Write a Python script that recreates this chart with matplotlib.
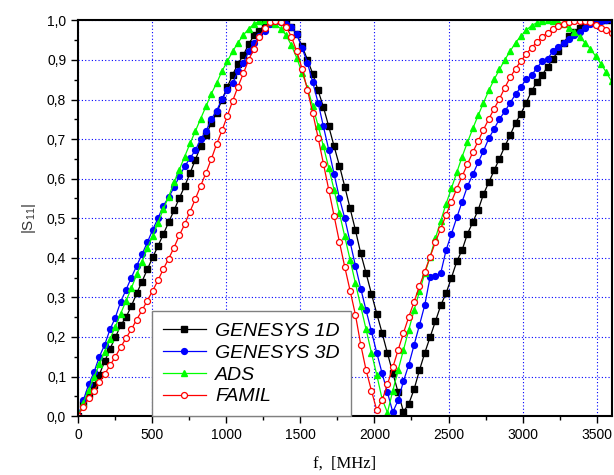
import matplotlib
matplotlib.use('Agg')
import matplotlib.pyplot as plt
from matplotlib.ticker import MultipleLocator, FuncFormatter
from matplotlib.font_manager import FontProperties

plt.rcParams['font.family'] = 'Liberation Sans'
plt.rcParams['mathtext.default'] = 'regular'

# sample frequencies, MHz
freq = [0, 36, 72, 108, 144, 180, 216, 252, 288, 324,
        360, 396, 432, 468, 504, 540, 576, 612, 648, 684,
        720, 756, 792, 828, 864, 900, 936, 972, 1008, 1044,
        1080, 1116, 1152, 1188, 1224, 1260, 1296, 1332, 1368, 1404,
        1440, 1476, 1512, 1548, 1584, 1620, 1656, 1692, 1728, 1764,
        1800, 1836, 1872, 1908, 1944, 1980, 2016, 2052, 2088, 2124,
        2160, 2196, 2232, 2268, 2304, 2340, 2376, 2412, 2448, 2484,
        2520, 2556, 2592, 2628, 2664, 2700, 2736, 2772, 2808, 2844,
        2880, 2916, 2952, 2988, 3024, 3060, 3096, 3132, 3168, 3204,
        3240, 3276, 3312, 3348, 3384, 3420, 3456, 3492, 3528, 3564,
        3600]

genesys_1d = [0.000, 0.030, 0.055, 0.078, 0.105, 0.138, 0.170, 0.199, 0.229, 0.250,
              0.278, 0.310, 0.340, 0.371, 0.401, 0.430, 0.460, 0.490, 0.520, 0.551,
              0.581, 0.614, 0.648, 0.682, 0.710, 0.741, 0.766, 0.800, 0.832, 0.863,
              0.891, 0.912, 0.941, 0.962, 0.973, 0.990, 0.996, 1.000, 1.000, 0.994,
              0.984, 0.965, 0.935, 0.901, 0.865, 0.823, 0.781, 0.732, 0.682, 0.633,
              0.580, 0.525, 0.470, 0.411, 0.361, 0.309, 0.259, 0.210, 0.159, 0.109,
              0.060, 0.011, 0.031, 0.068, 0.116, 0.160, 0.200, 0.240, 0.280, 0.311,
              0.350, 0.391, 0.420, 0.461, 0.490, 0.521, 0.561, 0.591, 0.621, 0.651,
              0.682, 0.710, 0.741, 0.764, 0.792, 0.821, 0.844, 0.862, 0.883, 0.903,
              0.922, 0.944, 0.960, 0.970, 0.981, 0.990, 0.996, 0.998, 1.000, 1.000,
              1.000]

genesys_3d = [0.000, 0.040, 0.080, 0.111, 0.150, 0.180, 0.219, 0.249, 0.289, 0.319,
              0.350, 0.380, 0.409, 0.439, 0.471, 0.500, 0.532, 0.553, 0.578, 0.606,
              0.631, 0.652, 0.672, 0.700, 0.720, 0.751, 0.772, 0.802, 0.824, 0.842,
              0.872, 0.893, 0.922, 0.944, 0.960, 0.973, 0.990, 0.995, 0.996, 0.992,
              0.984, 0.965, 0.930, 0.893, 0.844, 0.792, 0.732, 0.673, 0.612, 0.551,
              0.500, 0.440, 0.380, 0.322, 0.267, 0.214, 0.160, 0.108, 0.060, 0.010,
              0.040, 0.088, 0.130, 0.180, 0.230, 0.281, 0.352, 0.353, 0.362, 0.420,
              0.461, 0.502, 0.542, 0.581, 0.611, 0.641, 0.670, 0.702, 0.726, 0.751,
              0.770, 0.792, 0.813, 0.832, 0.851, 0.861, 0.880, 0.897, 0.903, 0.922,
              0.932, 0.944, 0.954, 0.962, 0.972, 0.981, 0.990, 0.994, 0.998, 1.000,
              1.000]

ads = [0.000, 0.034, 0.066, 0.098, 0.131, 0.163, 0.195, 0.226, 0.259, 0.291,
       0.323, 0.358, 0.390, 0.424, 0.456, 0.489, 0.523, 0.555, 0.591, 0.623,
       0.656, 0.689, 0.720, 0.752, 0.783, 0.815, 0.842, 0.872, 0.897, 0.922,
       0.944, 0.963, 0.979, 0.991, 0.998, 1.000, 0.997, 0.990, 0.979, 0.963,
       0.937, 0.905, 0.868, 0.830, 0.783, 0.734, 0.682, 0.627, 0.572, 0.513,
       0.454, 0.395, 0.336, 0.277, 0.219, 0.160, 0.104, 0.043, 0.009, 0.064,
       0.116, 0.167, 0.218, 0.268, 0.315, 0.361, 0.403, 0.450, 0.494, 0.537,
       0.576, 0.616, 0.656, 0.692, 0.727, 0.760, 0.792, 0.823, 0.851, 0.876,
       0.901, 0.922, 0.944, 0.960, 0.975, 0.987, 0.994, 0.998, 1.000, 0.999,
       0.996, 0.990, 0.982, 0.971, 0.959, 0.944, 0.929, 0.910, 0.891, 0.869,
       0.846]

famil = [0.000, 0.024, 0.045, 0.064, 0.085, 0.106, 0.128, 0.150, 0.174, 0.197,
         0.219, 0.244, 0.267, 0.292, 0.317, 0.343, 0.372, 0.398, 0.426, 0.457,
         0.485, 0.517, 0.549, 0.582, 0.615, 0.650, 0.688, 0.722, 0.759, 0.797,
         0.833, 0.866, 0.901, 0.928, 0.959, 0.980, 0.995, 0.999, 0.997, 0.984,
         0.959, 0.922, 0.878, 0.825, 0.766, 0.704, 0.638, 0.572, 0.506, 0.440,
         0.377, 0.317, 0.256, 0.180, 0.116, 0.064, 0.015, 0.040, 0.080, 0.123,
         0.167, 0.210, 0.251, 0.289, 0.329, 0.365, 0.403, 0.440, 0.474, 0.509,
         0.542, 0.575, 0.606, 0.637, 0.667, 0.695, 0.724, 0.751, 0.777, 0.802,
         0.830, 0.856, 0.878, 0.897, 0.915, 0.931, 0.945, 0.958, 0.969, 0.978,
         0.986, 0.992, 0.996, 0.999, 0.999, 0.998, 0.995, 0.989, 0.982, 0.975,
         0.967]

fig = plt.figure(figsize=(6.14, 4.75), dpi=100)
ax = fig.add_axes([0.127, 0.124, 0.869, 0.833])

ax.plot(freq, genesys_1d, color='black', marker='s', ms=3.8, lw=0.9, label='GENESYS 1D')
ax.plot(freq, genesys_3d, color='blue', marker='o', ms=4.2, lw=0.9, label='GENESYS 3D')
ax.plot(freq, ads, color='#00ff00', marker='^', ms=4.8, lw=0.9, label='ADS')
ax.plot(freq, famil, color='red', marker='o', ms=4.3, lw=0.9, mfc='white', mew=0.9,
        label='FAMIL')

ax.set_xlim(0, 3600)
ax.set_ylim(0, 1.0)
ax.xaxis.set_major_locator(MultipleLocator(500))
ax.xaxis.set_minor_locator(MultipleLocator(250))
ax.yaxis.set_major_locator(MultipleLocator(0.1))
ax.yaxis.set_minor_locator(MultipleLocator(0.05))
ax.yaxis.set_major_formatter(FuncFormatter(lambda v, p: f'{v:.1f}'.replace('.', ',')))

ax.grid(True, which='major', color='blue', linestyle=(0, (1, 2)), linewidth=0.8)
ax.set_axisbelow(True)
ax.tick_params(which='major', direction='out', length=5, width=1, labelsize=10)
ax.tick_params(which='minor', direction='out', length=3, width=1)
for s in ax.spines.values():
    s.set_linewidth(1.5)

ax.set_xlabel('f,  [MHz]', family='Liberation Serif', size=12, labelpad=10)
ax.set_ylabel('|S$_{11}$|', size=11, color='#333333')
ax.yaxis.set_label_coords(-0.075, 0.5)

leg = ax.legend(loc='lower left', bbox_to_anchor=(0.139, 0.0),
                prop=FontProperties(family='Liberation Sans', style='italic', size=14),
                fancybox=False, edgecolor='gray', framealpha=1, borderpad=0.55,
                labelspacing=0.22, handlelength=2.2, handletextpad=0.5, borderaxespad=0)
leg.get_frame().set_linewidth(1)

fig.savefig('out.png', dpi=100)
